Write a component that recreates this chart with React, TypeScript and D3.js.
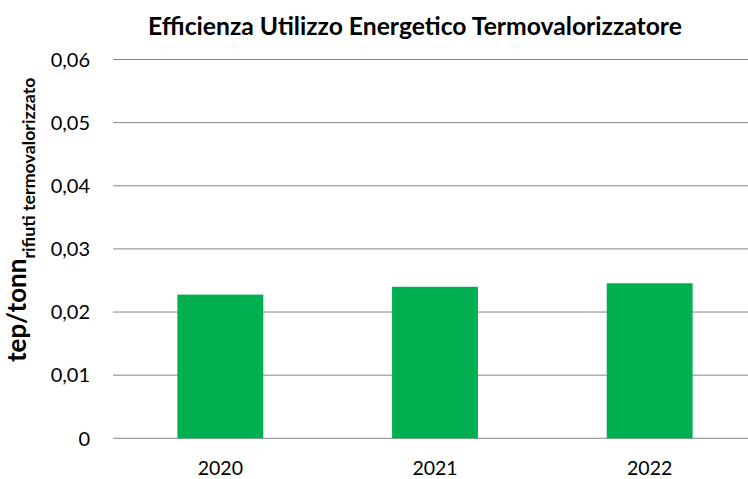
import React from "react";
import * as d3 from "d3";

const categories = ["2020", "2021", "2022"];
const values = [0.02276, 0.024, 0.02456];
const yTicks = [0, 0.01, 0.02, 0.03, 0.04, 0.05, 0.06];
const title = "Efficienza Utilizzo Energetico Termovalorizzatore";

const W = 748;
const H = 479;
const FONT = "Lato, 'Open Sans', sans-serif";

export default function App() {
  const left = 113;
  const x = d3
    .scaleBand<string>()
    .domain(categories)
    .range([left, 757])
    .paddingInner(0.6)
    .paddingOuter(0.3);
  const y = d3.scaleLinear().domain([0, 0.06]).range([438.3, 59.5]);
  const fmt = (v: number) => (v === 0 ? "0" : d3.format(".2f")(v).replace(".", ","));

  return (
    <svg
      width={W}
      height={H}
      style={{ position: "absolute", left: 0, top: 0, background: "#fff" }}
      fontFamily={FONT}
    >
      <text x={415} y={35} textAnchor="middle" fontSize={24.7} fontWeight="bold" fill="#000">
        {title}
      </text>
      {yTicks.map((t) => (
        <g key={t}>
          <line x1={left} x2={W} y1={y(t)} y2={y(t)} stroke="#868686" strokeWidth={1} />
          <text x={90} y={y(t)} dy="0.36em" textAnchor="end" fontSize={20} fill="#000">
            {fmt(t)}
          </text>
        </g>
      ))}
      {categories.map((c, i) => (
        <rect
          key={c}
          x={x(c)!}
          y={y(values[i])}
          width={x.bandwidth()}
          height={y(0) - y(values[i])}
          fill="#00AF50"
        />
      ))}
      {categories.map((c) => (
        <text
          key={c}
          x={x(c)! + x.bandwidth() / 2}
          y={467.5}
          dy="0.36em"
          textAnchor="middle"
          fontSize={19.5}
          fill="#000"
        >
          {c}
        </text>
      ))}
      <text
        transform={`translate(26, 362) rotate(-90)`}
        textAnchor="start"
        fontWeight="bold"
        fill="#000"
      >
        <tspan fontSize={26}>tep/tonn</tspan>
        <tspan fontSize={17.8} dy={9}>rifiuti termovalorizzato</tspan>
      </text>
    </svg>
  );
}
